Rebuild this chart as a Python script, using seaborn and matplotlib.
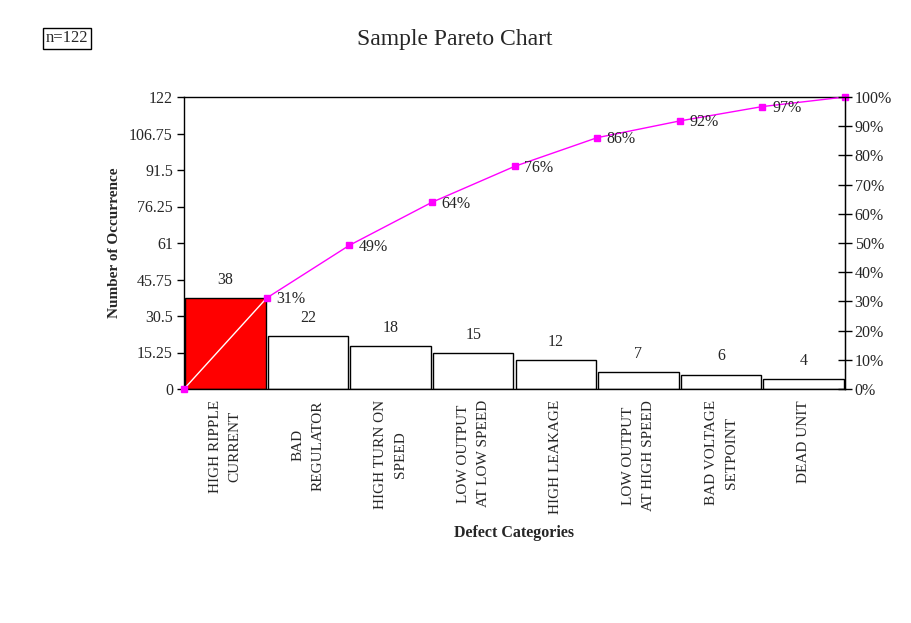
import numpy as np
import pandas as pd
import matplotlib
matplotlib.use("Agg")
import matplotlib.pyplot as plt
import seaborn as sns

# ---------- DATA ----------
categories = ["HIGH RIPPLE\nCURRENT", "BAD\nREGULATOR", "HIGH TURN ON\nSPEED",
              "LOW OUTPUT\nAT LOW SPEED", "HIGH LEAKAGE", "LOW OUTPUT\nAT HIGH SPEED",
              "BAD VOLTAGE\nSETPOINT", "DEAD UNIT"]
counts = [38, 22, 18, 15, 12, 7, 6, 4]
left_ticks = [0, 15.25, 30.5, 45.75, 61, 76.25, 91.5, 106.75, 122]
right_ticks = [0, 10, 20, 30, 40, 50, 60, 70, 80, 90, 100]
bar_colors = ["#FF0000"] + ["#FFFFFF"] * 7

total = sum(counts)
cum = np.concatenate([[0], np.cumsum(counts)])
cum_pct = cum / total * 100

df = pd.DataFrame({"Category": categories, "Count": counts})

# ---------- STYLE ----------
sns.set_style("white")
plt.rcParams["font.family"] = ["Liberation Serif", "DejaVu Serif"]
plt.rcParams["font.size"] = 11

fig = plt.figure(figsize=(9.11, 6.23), dpi=100)
ax = fig.add_axes([184 / 911, 1 - 389 / 623, (845 - 184) / 911, (389 - 97) / 623])

sns.barplot(data=df, x="Category", y="Count", hue="Category", palette=bar_colors,
            legend=False, width=0.975, edgecolor="black", linewidth=1,
            saturation=1, ax=ax)

ax.set_xlim(-0.5, len(counts) - 0.5)
ax.set_ylim(0, total)
ax.set_yticks(left_ticks)
ax.set_yticklabels([f"{t:g}" for t in left_ticks])
ax.tick_params(axis="y", direction="out", length=5, width=1, color="black", pad=3,
               labelsize=11.5)

# category boundaries as major ticks, labels at centers
ax.set_xticks(np.arange(len(counts) + 1) - 0.5)
ax.set_xticklabels([])
ax.tick_params(axis="x", which="major", direction="out", length=6, width=1, color="black")
ax.set_xticks(np.arange(len(counts)), minor=True)
ax.set_xticklabels(categories, minor=True, rotation=90, linespacing=1.7,
                   multialignment="center")
ax.tick_params(axis="x", which="minor", length=0, pad=8)

for sp in ax.spines.values():
    sp.set_visible(True)
    sp.set_color("black")
    sp.set_linewidth(1)

ax.set_xlabel("Defect Categories", fontweight="bold", fontsize=11.5, labelpad=8)
ax.set_ylabel("Number of Occurrence", fontweight="bold", fontsize=11, labelpad=6)

# value labels on bars
for i, c in enumerate(counts):
    ax.annotate(str(c), (i, c), xytext=(0, 7.5), textcoords="offset points",
                ha="center", va="bottom", fontsize=11.5)

# cumulative line
xs = np.arange(len(counts) + 1) - 0.5
ax.plot(xs[:2], cum[:2], color="white", lw=1, zorder=4)
ax.plot(xs[1:], cum[1:], color="#FF00FF", lw=1, zorder=4)
ax.plot(xs, cum, ls="none", marker="s", ms=4.5, color="#FF00FF", zorder=5, clip_on=False)
for x, y, p in zip(xs[1:-1], cum[1:-1], cum_pct[1:-1]):
    ax.annotate(f"{p:.0f}%", (x, y), xytext=(7, -1), textcoords="offset points",
                ha="left", va="center", fontsize=11.5, zorder=6)

# right percentage axis
ax2 = ax.twinx()
ax2.set_ylim(0, 100)
ax2.set_yticks(right_ticks)
ax2.set_yticklabels([f"{t}%" for t in right_ticks])
ax2.tick_params(axis="y", direction="inout", length=10, width=1, color="black", pad=2,
                labelsize=11.5)
for sp in ax2.spines.values():
    sp.set_visible(False)
ax2.spines["right"].set_visible(True)
ax2.spines["right"].set_color("black")

fig.text(455 / 911, 1 - 40 / 623, "Sample Pareto Chart", ha="center", va="center", fontsize=17)
fig.text(67 / 911, 1 - 38.5 / 623, "n=122", ha="center", va="center", fontsize=12,
         bbox=dict(boxstyle="square,pad=0.15", fc="white", ec="black", lw=1))

fig.savefig("out.png", dpi=100, facecolor="white")
